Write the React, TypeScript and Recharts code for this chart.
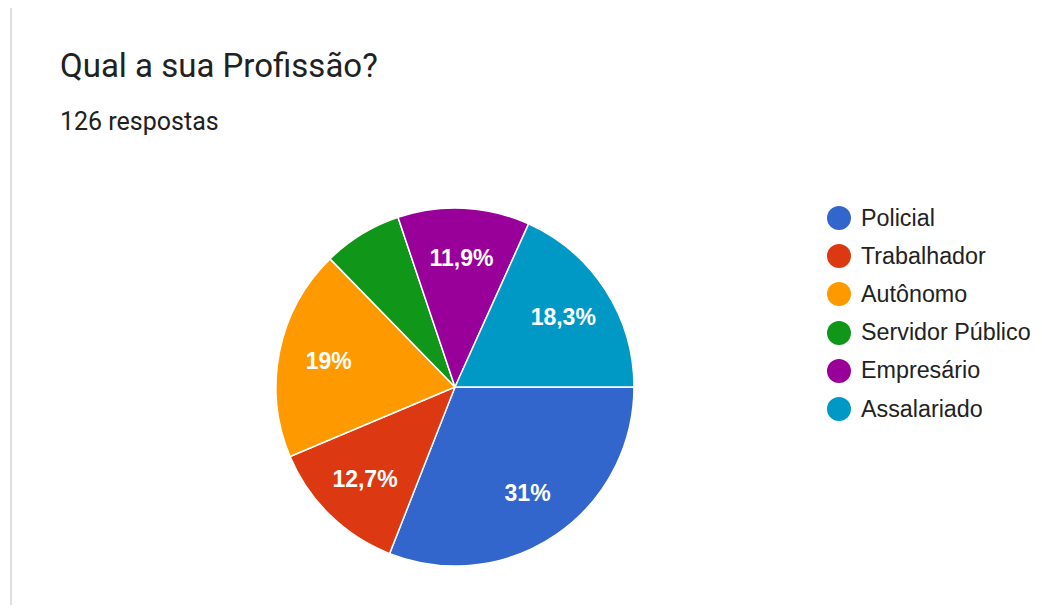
import React from 'react';
import { PieChart, Pie, Cell, Legend } from 'recharts';

const categories = ['Policial', 'Trabalhador', 'Autônomo', 'Servidor Público', 'Empresário', 'Assalariado'];
const counts = [39, 16, 24, 9, 15, 23];
const colors = ['#3366cc', '#dc3912', '#ff9900', '#109618', '#990099', '#0099c6'];

const data = categories.map((name, i) => ({ name, value: counts[i] }));

const RADIAN = Math.PI / 180;

const formatPct = (p: number) => {
  const s = (p * 100).toFixed(1);
  return (s.endsWith('.0') ? s.slice(0, -2) : s).replace('.', ',') + '%';
};

const renderLabel = (props: any) => {
  const { cx, cy, midAngle, outerRadius, percent } = props;
  if (percent < 0.08) return null;
  const r = outerRadius * 0.72;
  const x = cx + r * Math.cos(-midAngle * RADIAN);
  const y = cy + r * Math.sin(-midAngle * RADIAN);
  return (
    <text
      x={x}
      y={y}
      fill="#ffffff"
      textAnchor="middle"
      dominantBaseline="central"
      fontFamily="'Liberation Sans', Arial, sans-serif"
      fontSize={23}
      fontWeight="bold"
    >
      {formatPct(percent)}
    </text>
  );
};

const renderLegend = () => (
  <div style={{ fontFamily: "'Liberation Sans', Arial, sans-serif", fontSize: 23.3, color: '#222', whiteSpace: 'nowrap' }}>
    {categories.map((c, i) => (
      <div key={c} style={{ display: 'flex', alignItems: 'center', height: 38.2 }}>
        <span
          style={{
            display: 'inline-block',
            flexShrink: 0,
            width: 24,
            height: 24,
            borderRadius: '50%',
            background: colors[i],
            marginRight: 10,
          }}
        />
        <span>{c}</span>
      </div>
    ))}
  </div>
);

export default function App() {
  return (
    <div style={{ position: 'relative', width: 1042, height: 613, margin: -8, background: '#fff', overflow: 'hidden' }}>
      <div style={{ position: 'absolute', left: 10, top: 0, width: 2, height: 613, background: '#dedede' }} />
      <div
        style={{
          position: 'absolute',
          left: 60,
          top: 49,
          fontFamily: 'Roboto, sans-serif',
          fontSize: 33,
          lineHeight: 1,
          color: '#212121',
          whiteSpace: 'nowrap',
        }}
      >
        Qual a sua Profissão?
      </div>
      <div
        style={{
          position: 'absolute',
          left: 60,
          top: 109,
          fontFamily: 'Roboto, sans-serif',
          fontSize: 25,
          lineHeight: 1,
          color: '#212121',
          whiteSpace: 'nowrap',
        }}
      >
        126 respostas
      </div>
      <div style={{ position: 'absolute', left: 0, top: 0 }}>
        <PieChart width={1042} height={613} margin={{ top: 0, right: 0, bottom: 0, left: 0 }}>
          <Pie
            data={data}
            dataKey="value"
            nameKey="name"
            cx={455}
            cy={387}
            outerRadius={179}
            startAngle={0}
            endAngle={-360}
            stroke="#ffffff"
            strokeWidth={1.5}
            label={renderLabel}
            labelLine={false}
            isAnimationActive={false}
          >
            {data.map((d, i) => (
              <Cell key={d.name} fill={colors[i]} />
            ))}
          </Pie>
          <Legend
            content={renderLegend}
            wrapperStyle={{ position: 'absolute', left: 827, top: 199, width: 215 }}
          />
        </PieChart>
      </div>
    </div>
  );
}
